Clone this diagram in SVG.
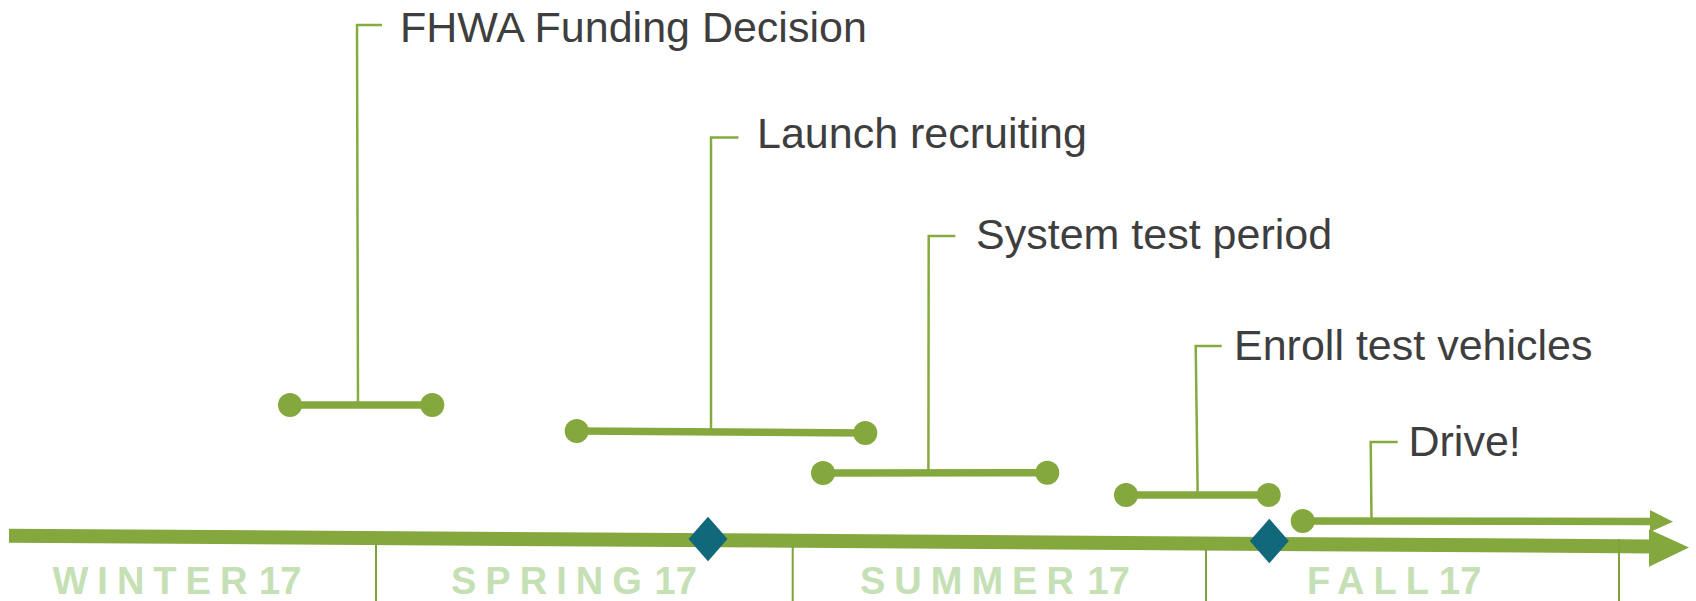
<svg xmlns="http://www.w3.org/2000/svg" width="1696" height="601" viewBox="0 0 1696 601">
  <style>
    .bar { stroke: #84a83e; stroke-width: 7.5; fill: none; }
    .dot { fill: #84a83e; }
    .leader { stroke: #84ab3f; stroke-width: 2.5; fill: none; stroke-linejoin: miter; }
    .label { font-family: "Liberation Sans", Arial, sans-serif; font-size: 43px; fill: #3e3e3e; }
    .season { font-family: "Liberation Sans", Arial, sans-serif; font-size: 38px; font-weight: bold; fill: #c5e0b4; letter-spacing: 9px; }
    .season .num { letter-spacing: 0px; }
    .tick { stroke: #7fa23a; stroke-width: 2; }
    .diamond { fill: #11687a; }
    .axis { stroke: #84a83e; stroke-width: 14; fill: none; }
    .head { fill: #84a83e; }
  </style>
  <rect width="1696" height="601" fill="#ffffff"/>

  <g id="axis">
    <line class="axis" x1="9" y1="535.7" x2="1651" y2="546.4"/>
    <polygon class="head" points="1649,529.3 1689,547.4 1649,566.7"/>
  </g>

  <g id="ticks">
    <line class="tick" x1="376" y1="543" x2="376" y2="601"/>
    <line class="tick" x1="792.7" y1="546" x2="792.7" y2="601"/>
    <line class="tick" x1="1206" y1="549" x2="1206" y2="601"/>
    <line class="tick" x1="1619" y1="539" x2="1619" y2="601"/>
  </g>

  <g id="seasons">
    <text class="season" x="52.5" y="593.5">WINTER<tspan class="num" x="259">17</tspan></text>
    <text class="season" x="451" y="593.5">SPRING<tspan class="num" x="654.5">17</tspan></text>
    <text class="season" x="860" y="593.5">SUMMER<tspan class="num" x="1087.5">17</tspan></text>
    <text class="season" x="1307" y="593.5">FALL<tspan class="num" x="1439">17</tspan></text>
  </g>

  <g id="connectors">
    <path class="leader" d="M358,405 L357,25 L382,25"/>
    <path class="leader" d="M711,431 L711,137.5 L738.5,137.5"/>
    <path class="leader" d="M928.4,473 L928.7,236 L955.3,236"/>
    <path class="leader" d="M1197.7,495 L1195.7,346 L1221.7,346"/>
    <path class="leader" d="M1371.5,521 L1370.7,442 L1397.7,442"/>
  </g>

  <g id="fhwa-funding-decision">
    <line class="bar" x1="290" y1="405" x2="432.3" y2="405"/>
    <circle class="dot" cx="290" cy="405" r="12"/>
    <circle class="dot" cx="432.3" cy="405" r="12"/>
    <text class="label" x="400" y="41.8">FHWA Funding Decision</text>
  </g>

  <g id="launch-recruiting">
    <line class="bar" x1="576.7" y1="431" x2="865.3" y2="433"/>
    <circle class="dot" cx="576.7" cy="431" r="12"/>
    <circle class="dot" cx="865.3" cy="433" r="12"/>
    <text class="label" x="757" y="147.5">Launch recruiting</text>
  </g>

  <g id="system-test-period">
    <line class="bar" x1="823" y1="473" x2="1047.3" y2="472.7"/>
    <circle class="dot" cx="823" cy="473" r="12"/>
    <circle class="dot" cx="1047.3" cy="472.7" r="12"/>
    <text class="label" x="976" y="248.5">System test period</text>
  </g>

  <g id="enroll-test-vehicles">
    <line class="bar" x1="1126" y1="495" x2="1268.7" y2="495"/>
    <circle class="dot" cx="1126" cy="495" r="12"/>
    <circle class="dot" cx="1268.7" cy="495" r="12"/>
    <text class="label" x="1234" y="359.5">Enroll test vehicles</text>
  </g>

  <g id="drive">
    <line class="bar" x1="1302.7" y1="521" x2="1652" y2="521.5"/>
    <polygon class="head" points="1650,510 1673,521.7 1650,532"/>
    <circle class="dot" cx="1302.7" cy="521" r="12"/>
    <text class="label" x="1408.5" y="456">Drive!</text>
  </g>

  <g id="milestones">
    <polygon class="diamond" points="708,516.7 727.5,539 708,561.3 688.5,539"/>
    <polygon class="diamond" points="1269.3,518.7 1288.8,541 1269.3,563.3 1249.8,541"/>
  </g>
</svg>
